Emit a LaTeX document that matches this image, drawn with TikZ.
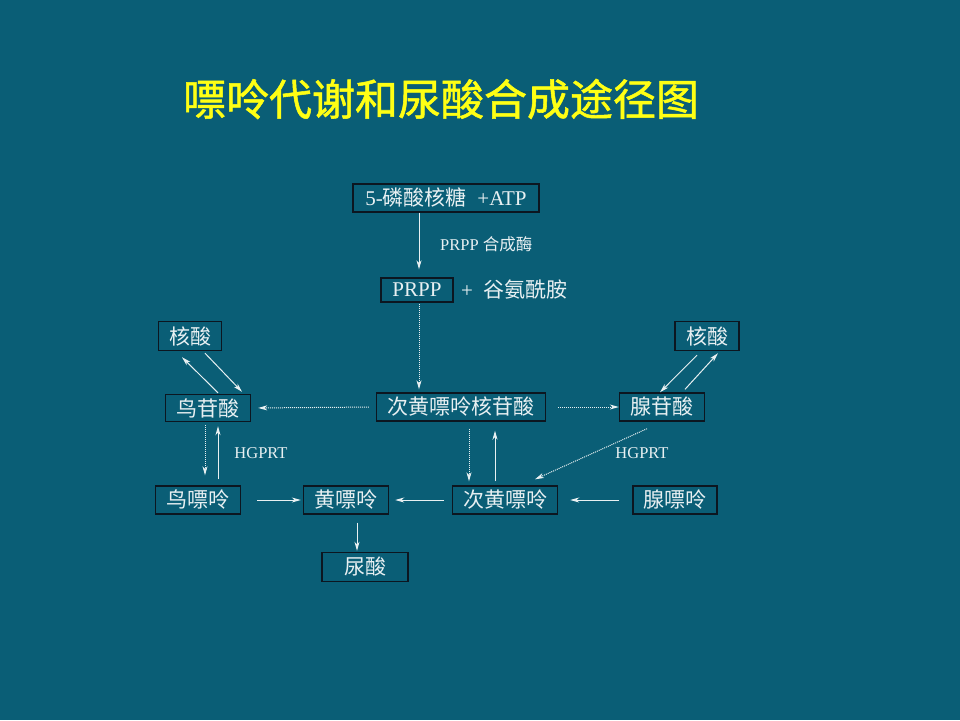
\documentclass[tikz,border=0pt]{standalone}
\usepackage{fontspec}
\setmainfont{Liberation Serif}
\newfontfamily\cjk{Noto Sans CJK SC}
\newfontfamily\cjktitle[FakeBold=1.2]{Noto Sans CJK SC}
\usetikzlibrary{arrows.meta,calc}
\definecolor{bg}{RGB}{10,94,118}
\definecolor{boxline}{RGB}{12,22,32}
\definecolor{txt}{RGB}{232,240,242}
\definecolor{ttl}{RGB}{255,255,20}
\begin{document}
\begin{tikzpicture}[x=1pt,y=-1pt,
  box/.style={draw=boxline, line width=1.4pt, inner sep=0pt, text=txt,
    font=\fontsize{21}{23}\selectfont},
  arr/.style={draw=txt, line width=1pt, -{Stealth[length=9pt,width=5pt,inset=2.5pt]}},
  dotarr/.style={arr, dash pattern=on 1pt off 1pt},
  small/.style={text=txt, font=\fontsize{16.5}{18}\selectfont, inner sep=0pt}]
\fill[bg] (0,0) rectangle (960,720);
\useasboundingbox (0,0) rectangle (960,720);
% title
\node (title) [text=ttl, font=\cjktitle\fontsize{43}{45}\selectfont, inner sep=0pt] at (441,99) {嘌呤代谢和尿酸合成途径图};
% boxes
\node (top) [box, minimum width=186pt, minimum height=28pt] at (446,198) {5-{\cjk 磷酸核糖}\ \ +ATP};
\node (prpp) [box, minimum width=72pt, minimum height=24pt] at (417,290) {PRPP};
\node (gln) [text=txt, font=\fontsize{21}{23}\selectfont, inner sep=0pt, anchor=west] at (461,290) {+\ \ {\cjk 谷氨酰胺}};
\node (nucL) [box, minimum width=63pt, minimum height=29pt] at (190,336) {\cjk 核酸};
\node (nucR) [box, minimum width=64pt, minimum height=29pt] at (707,336) {\cjk 核酸};
\node (gmp) [box, minimum width=85pt, minimum height=27pt] at (208,408) {\cjk 鸟苷酸};
\node (imp) [box, minimum width=169pt, minimum height=28pt] at (461,407) {\cjk 次黄嘌呤核苷酸};
\node (amp) [box, minimum width=85pt, minimum height=28pt] at (662,407) {\cjk 腺苷酸};
\node (gua) [box, minimum width=85pt, minimum height=28pt] at (198,500) {\cjk 鸟嘌呤};
\node (xan) [box, minimum width=85pt, minimum height=28pt] at (346,500) {\cjk 黄嘌呤};
\node (hyp) [box, minimum width=105pt, minimum height=28pt] at (505,500) {\cjk 次黄嘌呤};
\node (ade) [box, minimum width=84pt, minimum height=28pt] at (675,500) {\cjk 腺嘌呤};
\node (uric) [box, minimum width=86pt, minimum height=29pt] at (365,567) {{\cjk 尿酸}\hspace{18pt}};
% labels
\node (lprpp) [small, anchor=west] at (440,244) {PRPP {\cjk 合成酶}};
\node (lh1) [small] at (261,453) {HGPRT};
\node (lh2) [small] at (642,453) {HGPRT};
% connectors
\draw[arr, shorten >=8pt] (top.south -| prpp.north) ++(2,0) coordinate (t1) -- (t1 |- prpp.north);
\draw[dotarr, shorten >=3pt] ($(prpp.south)+(2,1)$) coordinate (p1) -- (p1 |- imp.north);
\draw[dotarr, shorten <=7pt, shorten >=7pt] (imp.west) -- (gmp.east);
\draw[dotarr, shorten <=12pt] (imp.east) -- (amp.west);
\draw[arr] ($(gmp.north)+(10,-1)$) -- ($(nucL.south)+(-8,6)$);
\draw[arr] ($(nucL.south)+(15,2)$) -- ($(gmp.north)+(34,-2)$);
\draw[arr] ($(nucR.south)+(-10,4)$) -- ($(amp.north)+(-2,0)$);
\draw[arr] ($(amp.north)+(23,-3)$) -- ($(nucR.south)+(11,2)$);
\draw[dotarr] ($(gmp.south)+(-3,3)$) -- ($(gua.north)+(7,-10)$);
\draw[arr] ($(gua.north)+(20,-6)$) -- ($(gmp.south)+(10,4)$);
\draw[arr, shorten <=16pt, shorten >=2pt] (gua.east) -- (xan.west);
\draw[arr, shorten <=8pt, shorten >=6pt] (hyp.west) -- (xan.east);
\draw[arr, shorten <=13pt, shorten >=12pt] (ade.west) -- (hyp.east);
\draw[arr] ($(xan.south)+(11,8)$) -- ($(uric.north)+(-8,-1)$);
\draw[dotarr] ($(imp.south)+(8,7)$) -- ($(hyp.north)+(-36,-4)$);
\draw[arr] ($(hyp.north)+(-10,-4)$) -- ($(imp.south)+(34,9)$);
\draw[dotarr] ($(amp.south)+(-15,7)$) -- ($(hyp.north)+(30,-6)$);
\end{tikzpicture}
\end{document}
